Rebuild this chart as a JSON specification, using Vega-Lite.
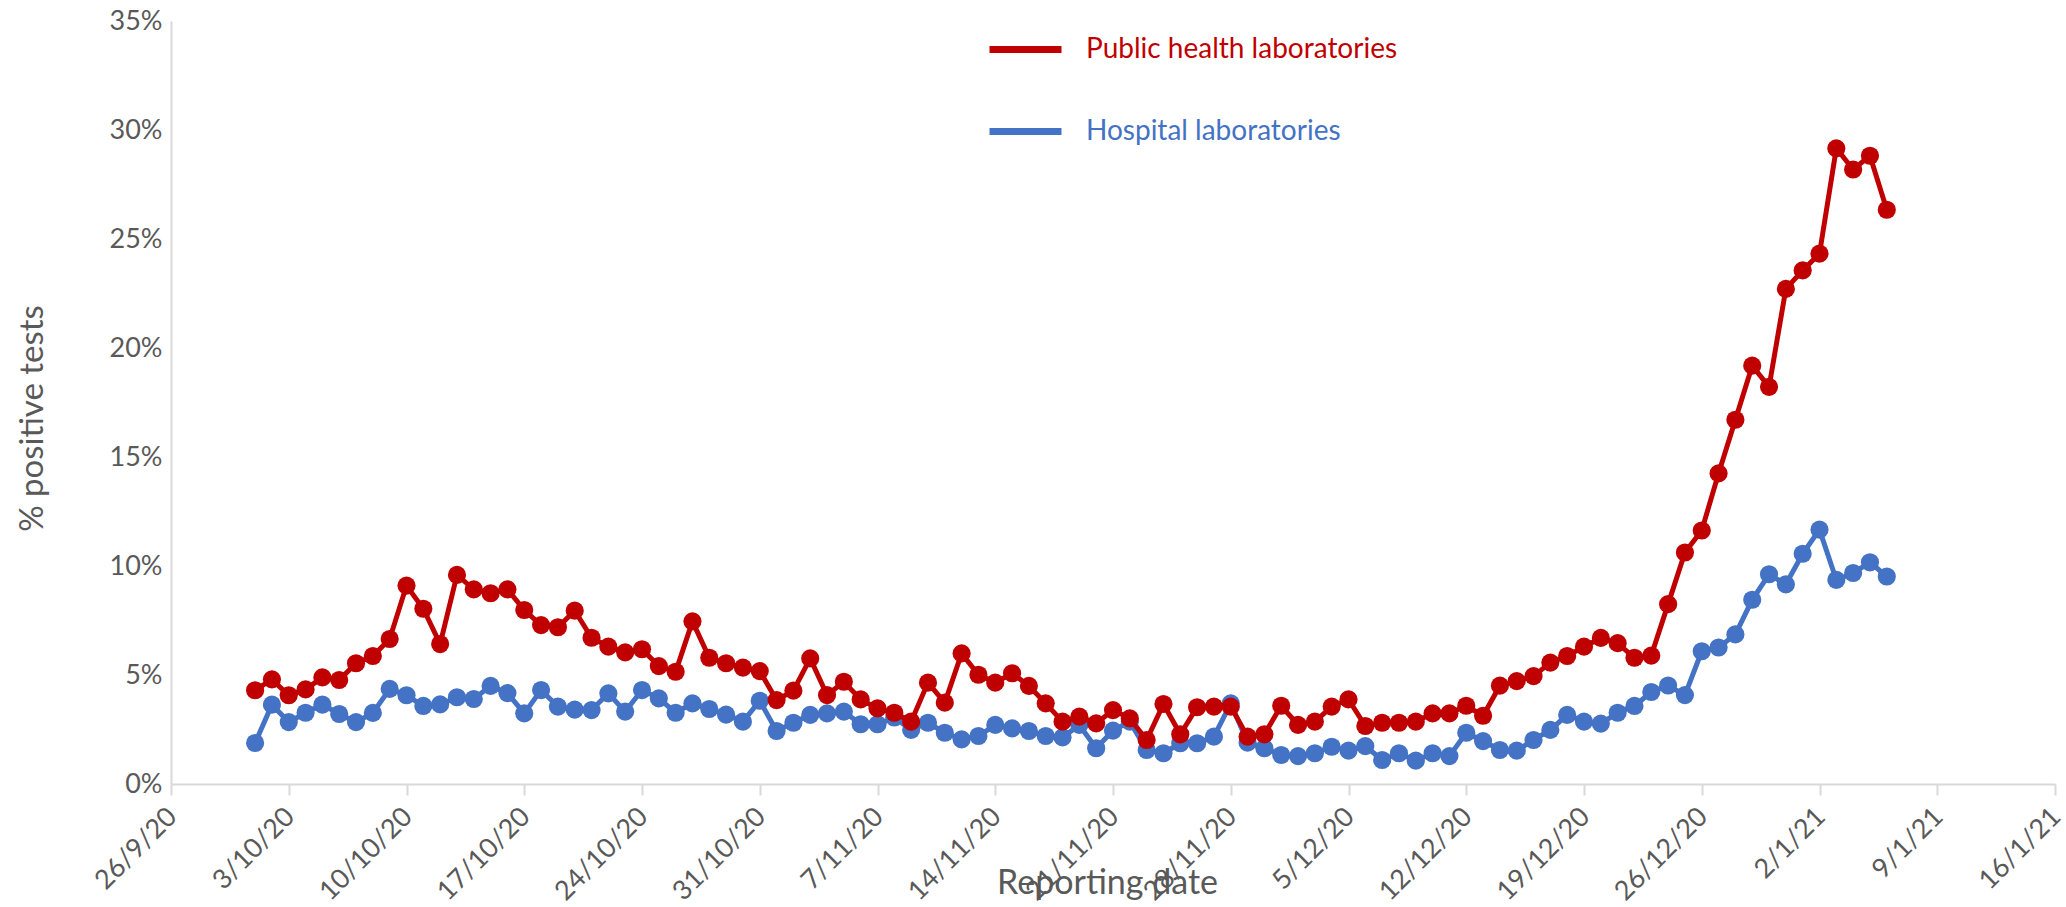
{
 "$schema": "https://vega.github.io/schema/vega-lite/v6.json",
 "width": 1884,
 "height": 763,
 "autosize": {"type": "none"},
 "padding": {"left": 171, "top": 21, "right": 11, "bottom": 123},
 "background": "white",
 "config": {"view": {"stroke": null}, "font": "Lato"},
 "data": {"values": [
  {"date":"2020-10-01","public":4.30,"hospital":1.88},
  {"date":"2020-10-02","public":4.80,"hospital":3.64},
  {"date":"2020-10-03","public":4.07,"hospital":2.84},
  {"date":"2020-10-04","public":4.34,"hospital":3.27},
  {"date":"2020-10-05","public":4.89,"hospital":3.64},
  {"date":"2020-10-06","public":4.77,"hospital":3.21},
  {"date":"2020-10-07","public":5.54,"hospital":2.84},
  {"date":"2020-10-08","public":5.87,"hospital":3.26},
  {"date":"2020-10-09","public":6.65,"hospital":4.36},
  {"date":"2020-10-10","public":9.10,"hospital":4.07},
  {"date":"2020-10-11","public":8.04,"hospital":3.58},
  {"date":"2020-10-12","public":6.42,"hospital":3.65},
  {"date":"2020-10-13","public":9.59,"hospital":3.98},
  {"date":"2020-10-14","public":8.93,"hospital":3.90},
  {"date":"2020-10-15","public":8.75,"hospital":4.50},
  {"date":"2020-10-16","public":8.93,"hospital":4.17},
  {"date":"2020-10-17","public":7.98,"hospital":3.24},
  {"date":"2020-10-18","public":7.29,"hospital":4.31},
  {"date":"2020-10-19","public":7.19,"hospital":3.55},
  {"date":"2020-10-20","public":7.95,"hospital":3.41},
  {"date":"2020-10-21","public":6.71,"hospital":3.39},
  {"date":"2020-10-22","public":6.30,"hospital":4.16},
  {"date":"2020-10-23","public":6.04,"hospital":3.32},
  {"date":"2020-10-24","public":6.18,"hospital":4.31},
  {"date":"2020-10-25","public":5.41,"hospital":3.93},
  {"date":"2020-10-26","public":5.15,"hospital":3.27},
  {"date":"2020-10-27","public":7.46,"hospital":3.70},
  {"date":"2020-10-28","public":5.79,"hospital":3.44},
  {"date":"2020-10-29","public":5.54,"hospital":3.18},
  {"date":"2020-10-30","public":5.34,"hospital":2.86},
  {"date":"2020-10-31","public":5.18,"hospital":3.82},
  {"date":"2020-11-01","public":3.85,"hospital":2.43},
  {"date":"2020-11-02","public":4.28,"hospital":2.81},
  {"date":"2020-11-03","public":5.76,"hospital":3.17},
  {"date":"2020-11-04","public":4.08,"hospital":3.24},
  {"date":"2020-11-05","public":4.69,"hospital":3.32},
  {"date":"2020-11-06","public":3.88,"hospital":2.74},
  {"date":"2020-11-07","public":3.47,"hospital":2.74},
  {"date":"2020-11-08","public":3.27,"hospital":3.05},
  {"date":"2020-11-09","public":2.86,"hospital":2.48},
  {"date":"2020-11-10","public":4.65,"hospital":2.81},
  {"date":"2020-11-11","public":3.73,"hospital":2.35},
  {"date":"2020-11-12","public":5.99,"hospital":2.05},
  {"date":"2020-11-13","public":5.01,"hospital":2.20},
  {"date":"2020-11-14","public":4.65,"hospital":2.71},
  {"date":"2020-11-15","public":5.08,"hospital":2.55},
  {"date":"2020-11-16","public":4.50,"hospital":2.43},
  {"date":"2020-11-17","public":3.70,"hospital":2.20},
  {"date":"2020-11-18","public":2.86,"hospital":2.14},
  {"date":"2020-11-19","public":3.09,"hospital":2.71},
  {"date":"2020-11-20","public":2.78,"hospital":1.64},
  {"date":"2020-11-21","public":3.39,"hospital":2.45},
  {"date":"2020-11-22","public":3.01,"hospital":2.86},
  {"date":"2020-11-23","public":2.02,"hospital":1.56},
  {"date":"2020-11-24","public":3.67,"hospital":1.41},
  {"date":"2020-11-25","public":2.28,"hospital":1.87},
  {"date":"2020-11-26","public":3.52,"hospital":1.87},
  {"date":"2020-11-27","public":3.55,"hospital":2.17},
  {"date":"2020-11-28","public":3.55,"hospital":3.70},
  {"date":"2020-11-29","public":2.17,"hospital":1.90},
  {"date":"2020-11-30","public":2.28,"hospital":1.64},
  {"date":"2020-12-01","public":3.59,"hospital":1.33},
  {"date":"2020-12-02","public":2.71,"hospital":1.28},
  {"date":"2020-12-03","public":2.86,"hospital":1.41},
  {"date":"2020-12-04","public":3.55,"hospital":1.71},
  {"date":"2020-12-05","public":3.88,"hospital":1.53},
  {"date":"2020-12-06","public":2.66,"hospital":1.74},
  {"date":"2020-12-07","public":2.81,"hospital":1.10},
  {"date":"2020-12-08","public":2.81,"hospital":1.41},
  {"date":"2020-12-09","public":2.86,"hospital":1.07},
  {"date":"2020-12-10","public":3.24,"hospital":1.41},
  {"date":"2020-12-11","public":3.24,"hospital":1.28},
  {"date":"2020-12-12","public":3.59,"hospital":2.35},
  {"date":"2020-12-13","public":3.13,"hospital":1.97},
  {"date":"2020-12-14","public":4.51,"hospital":1.56},
  {"date":"2020-12-15","public":4.72,"hospital":1.53},
  {"date":"2020-12-16","public":4.95,"hospital":2.02},
  {"date":"2020-12-17","public":5.57,"hospital":2.48},
  {"date":"2020-12-18","public":5.87,"hospital":3.17},
  {"date":"2020-12-19","public":6.30,"hospital":2.86},
  {"date":"2020-12-20","public":6.70,"hospital":2.77},
  {"date":"2020-12-21","public":6.46,"hospital":3.27},
  {"date":"2020-12-22","public":5.79,"hospital":3.58},
  {"date":"2020-12-23","public":5.89,"hospital":4.22},
  {"date":"2020-12-24","public":8.25,"hospital":4.52},
  {"date":"2020-12-25","public":10.62,"hospital":4.08},
  {"date":"2020-12-26","public":11.63,"hospital":6.09},
  {"date":"2020-12-27","public":14.25,"hospital":6.26},
  {"date":"2020-12-28","public":16.71,"hospital":6.86},
  {"date":"2020-12-29","public":19.19,"hospital":8.45},
  {"date":"2020-12-30","public":18.22,"hospital":9.62},
  {"date":"2020-12-31","public":22.71,"hospital":9.16},
  {"date":"2021-01-01","public":23.56,"hospital":10.56},
  {"date":"2021-01-02","public":24.33,"hospital":11.67},
  {"date":"2021-01-03","public":29.16,"hospital":9.36},
  {"date":"2021-01-04","public":28.19,"hospital":9.68},
  {"date":"2021-01-05","public":28.82,"hospital":10.17},
  {"date":"2021-01-06","public":26.34,"hospital":9.52}
 ]},
 "transform": [{"fold": ["public", "hospital"], "as": ["lab", "value"]}],
 "encoding": {
  "x": {
   "field": "date", "type": "temporal", "timeUnit": "utcyearmonthdate",
   "scale": {"domain": [{"year": 2020, "month": 9, "date": 26, "utc": true}, {"year": 2021, "month": 1, "date": 16, "utc": true}]},
   "axis": {
    "values": [
     {"year": 2020, "month": 9, "date": 26, "utc": true},
     {"year": 2020, "month": 10, "date": 3, "utc": true},
     {"year": 2020, "month": 10, "date": 10, "utc": true},
     {"year": 2020, "month": 10, "date": 17, "utc": true},
     {"year": 2020, "month": 10, "date": 24, "utc": true},
     {"year": 2020, "month": 10, "date": 31, "utc": true},
     {"year": 2020, "month": 11, "date": 7, "utc": true},
     {"year": 2020, "month": 11, "date": 14, "utc": true},
     {"year": 2020, "month": 11, "date": 21, "utc": true},
     {"year": 2020, "month": 11, "date": 28, "utc": true},
     {"year": 2020, "month": 12, "date": 5, "utc": true},
     {"year": 2020, "month": 12, "date": 12, "utc": true},
     {"year": 2020, "month": 12, "date": 19, "utc": true},
     {"year": 2020, "month": 12, "date": 26, "utc": true},
     {"year": 2021, "month": 1, "date": 2, "utc": true},
     {"year": 2021, "month": 1, "date": 9, "utc": true},
     {"year": 2021, "month": 1, "date": 16, "utc": true}
    ],
    "labelExpr": "utcFormat(datum.value, '%-d/%-m/%y')",
    "grid": false,
    "ticks": true,
    "tickSize": 11,
    "tickColor": "#D9D9D9",
    "tickWidth": 2,
    "domainColor": "#D9D9D9",
    "domainWidth": 2,
    "labelAngle": -45,
    "labelFontSize": 27,
    "labelColor": "#595959",
    "labelPadding": 8,
    "labelOffset": -8,
    "labelOverlap": false,
    "labelFlush": false,
    "labelBound": false,
    "title": "Reporting date",
    "titleFontSize": 34,
    "titleFontWeight": "normal",
    "titleColor": "#595959",
    "titleX": 936,
    "titleY": 109,
    "titleBaseline": "alphabetic"
   }
  },
  "y": {
   "field": "value", "type": "quantitative",
   "scale": {"domain": [0, 35], "nice": false},
   "axis": {
    "values": [0, 5, 10, 15, 20, 25, 30, 35],
    "labelExpr": "datum.value + '%'",
    "grid": false,
    "ticks": false,
    "domainColor": "#D9D9D9",
    "domainWidth": 2,
    "labelPadding": 9,
    "labelFontSize": 27,
    "labelColor": "#595959",
    "title": "% positive tests",
    "titleFontSize": 33,
    "titleFontWeight": "normal",
    "titleColor": "#595959",
    "titleAngle": -90,
    "titleX": -122,
    "titleY": 397,
    "titleAlign": "center",
    "titleBaseline": "bottom"
   }
  },
  "color": {
   "field": "lab", "type": "nominal",
   "scale": {"domain": ["public", "hospital"], "range": ["#C00000", "#4472C4"]},
   "legend": {
    "orient": "none",
    "legendX": 815,
    "legendY": -11,
    "title": null,
    "padding": 0,
    "symbolType": "stroke",
    "symbolSize": 5184,
    "symbolStrokeWidth": 7,
    "labelFontSize": 28,
    "labelOffset": 21,
    "labelLimit": 600,
    "rowPadding": 28,
    "labelExpr": "datum.value === 'public' ? 'Public health laboratories' : 'Hospital laboratories'",
    "encode": {
     "symbols": {"update": {"stroke": {"signal": "datum.value === 'public' ? '#C00000' : '#5B9BD5'"}}},
     "labels": {"update": {"fill": {"signal": "datum.value === 'public' ? '#C00000' : '#4472C4'"}}}
    }
   }
  }
 },
 "layer": [
  {"transform": [{"filter": "datum.lab === 'hospital'"}],
   "mark": {"type": "line", "strokeWidth": 5, "point": {"filled": true, "size": 330}}},
  {"transform": [{"filter": "datum.lab === 'public'"}],
   "mark": {"type": "line", "strokeWidth": 5, "point": {"filled": true, "size": 330}}}
 ]
}
